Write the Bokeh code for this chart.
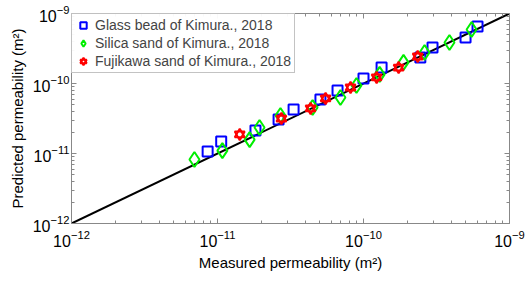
from bokeh.plotting import figure
from bokeh.models import LogAxis, Range1d, Legend, LegendItem, FixedTicker
from bokeh.embed import file_html
from bokeh.resources import INLINE

glass_x = [8.56e-12, 1.06e-11, 1.82e-11, 2.62e-11, 3.32e-11, 5.07e-11, 6.64e-11,
           1.0e-10, 1.33e-10, 2.45e-10, 2.97e-10, 5.0e-10, 6.04e-10]
glass_y = [1.07e-11, 1.48e-11, 2.13e-11, 3.06e-11, 4.26e-11, 5.90e-11, 7.94e-11,
           1.18e-10, 1.69e-10, 2.35e-10, 3.27e-10, 4.54e-10, 6.52e-10]
silica_x = [6.95e-12, 1.08e-11, 1.66e-11, 1.94e-11, 2.70e-11, 4.48e-11, 6.95e-11,
            8.95e-11, 1.29e-10, 1.88e-10, 2.62e-10, 3.88e-10, 5.5e-10]
silica_y = [8.2e-12, 1.10e-11, 1.58e-11, 2.35e-11, 3.49e-11, 4.54e-11, 6.31e-11,
            9.35e-11, 1.35e-10, 2.0e-10, 2.77e-10, 3.86e-10, 5.9e-10]
fuji_x = [1.42e-11, 2.74e-11, 4.34e-11, 5.5e-11, 8.15e-11, 1.23e-10, 1.74e-10, 2.35e-10]
fuji_y = [1.87e-11, 3.16e-11, 4.40e-11, 6.11e-11, 8.77e-11, 1.22e-10, 1.69e-10, 2.43e-10]
line_x = [1e-12, 1e-9]
line_y = [1e-12, 1e-9]
tick_vals = [1e-12, 1e-11, 1e-10, 1e-9]
labels = ["Glass bead of Kimura., 2018", "Silica sand of Kimura., 2018",
          "Fujikawa sand of Kimura., 2018"]

FONT = "Liberation Sans"
minor = [m * 10.0**e for e in range(-12, -9) for m in range(2, 10)]

p = figure(width=527, height=285, x_axis_type="log", y_axis_type="log",
           x_range=Range1d(1e-12, 1e-9), y_range=Range1d(1e-12, 1e-9),
           output_backend="svg", toolbar_location=None,
           min_border_left=71, min_border_right=18, min_border_top=13, min_border_bottom=62)
p.grid.visible = False
p.outline_line_color = "#888888"

for ax in [p.xaxis[0], p.yaxis[0]]:
    ax.ticker = FixedTicker(ticks=tick_vals, minor_ticks=minor)
    ax.major_label_text_font = FONT
    ax.major_label_text_font_size = "16px"
    ax.major_label_text_color = "black"
    ax.axis_line_color = "#888888"
    ax.major_tick_line_color = "#888888"
    ax.minor_tick_line_color = "#888888"
    ax.major_tick_in = 5
    ax.major_tick_out = 0
    ax.minor_tick_in = 3
    ax.minor_tick_out = 0
    ax.axis_label_text_font = FONT
    ax.axis_label_text_font_size = "15px"
    ax.axis_label_text_font_style = "normal"
    ax.axis_label_text_color = "black"

p.xaxis[0].axis_label = "Measured permeability (m\u00b2)"
p.yaxis[0].axis_label = "Predicted permeability (m\u00b2)"
p.xaxis[0].major_label_standoff = 6
p.xaxis[0].axis_label_standoff = 4
p.yaxis[0].major_label_standoff = 2
p.yaxis[0].axis_label_standoff = 4
p.yaxis[0].major_label_orientation = "horizontal"

for loc in ["above", "right"]:
    ax = LogAxis(ticker=FixedTicker(ticks=tick_vals, minor_ticks=minor))
    ax.major_label_text_color = None
    ax.major_label_text_font_size = "1px"
    ax.major_label_standoff = 0
    ax.axis_line_color = "#888888"
    ax.major_tick_line_color = "#888888"
    ax.minor_tick_line_color = "#888888"
    ax.major_tick_in = 5
    ax.major_tick_out = 0
    ax.minor_tick_in = 3
    ax.minor_tick_out = 0
    p.add_layout(ax, loc)

p.line(line_x, line_y, line_color="black", line_width=2)

r1 = p.scatter(glass_x, glass_y, marker="square", size=10, fill_color=None,
               line_color="#0000ff", line_width=2)
r2 = p.scatter(silica_x, silica_y, marker="diamond", size=15, fill_color=None,
               line_color="#00ee00", line_width=2)
r3a = p.scatter(fuji_x, fuji_y, marker="triangle", size=10, fill_color=None,
                line_color="#ff0000", line_width=2)
r3b = p.scatter(fuji_x, fuji_y, marker="inverted_triangle", size=10, fill_color=None,
                line_color="#ff0000", line_width=2)

legend = Legend(items=[LegendItem(label=labels[0], renderers=[r1]),
                       LegendItem(label=labels[1], renderers=[r2]),
                       LegendItem(label=labels[2], renderers=[r3a, r3b])],
                location="top_left")
legend.label_text_font = FONT
legend.label_text_font_size = "14px"
legend.label_height = 16
legend.glyph_height = 16
legend.glyph_width = 16
legend.spacing = 2
legend.padding = 3
legend.margin = 0
legend.label_standoff = 4
legend.border_line_color = "#888888"
p.add_layout(legend)

open("out.html", "w").write(file_html(p, INLINE))
